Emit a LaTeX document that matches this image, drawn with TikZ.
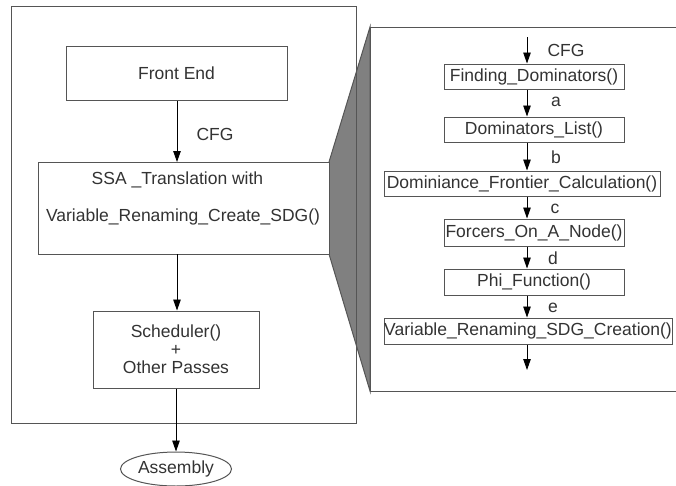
\documentclass[tikz,border=0pt]{standalone}
\usepackage{fontspec}
\setmainfont{Liberation Sans}
\usetikzlibrary{arrows.meta,shapes.geometric}
\definecolor{txt}{HTML}{333333}
\definecolor{frame}{HTML}{555555}
\definecolor{wedge}{HTML}{808080}
\begin{document}
\begin{tikzpicture}[x=1pt,y=-1pt,
  every node/.style={text=txt,font=\fontsize{17.5}{18}\selectfont},
  box/.style={draw=frame,line width=1pt,fill=white,inner sep=0pt,rectangle,align=center},
  flow/.style={draw=black,line width=0.9pt,-{Triangle[length=11pt,width=7.5pt]}},
  lbl/.style={inner sep=0pt}]
\useasboundingbox (0,0) rectangle (676,485);

% shaded wedge linking the SSA stage to its detail panel
\fill[wedge,draw=frame,line width=1pt] (329,162) -- (370,27) -- (370,391) -- (329,254) -- cycle;

% outer compiler frame
\draw[frame,line width=1pt] (11,6) rectangle (356,423);

% compiler stages
\node[box,minimum width=221pt,minimum height=54pt] (fe) at (176.5,73.5) {Front End};
\node[box,minimum width=291pt,minimum height=92pt] (ssa) at (183.5,208) {};
\node[lbl] at (177.5,180) {SSA \_Translation with};
\node[lbl] at (183,217) {Variable\_Renaming\_Create\_SDG()};
\node[box,minimum width=166pt,minimum height=77pt,
      font=\fontsize{17.5}{18}\selectfont] (sch) at (176,349.5) {Scheduler()\\+\\Other Passes};
\node[draw=frame,line width=1pt,ellipse,minimum width=111pt,minimum height=34pt,inner sep=0pt] (asm) at (176,469) {Assembly};

\draw[flow] (fe.south -| 177,0) -- (177,162) coordinate (ssatop);
\node[lbl] (cfg1) at (215,134.5) {CFG};
\draw[flow] (177,254) -- (sch.north -| 177,0);
\draw[flow] (sch.south) -- (asm.north);

% detail panel of the SSA translation
\draw[frame,line width=1pt,fill=white] (676,27) -- (370,27) -- (370,391) -- (676,391);
\coordinate (axis) at (527,0);
\coordinate (in) at (527,37);
\node[box,minimum width=180pt,minimum height=25pt] (fd) at (534,76.5) {Finding\_Dominators()};
\node[box,minimum width=180pt,minimum height=25pt] (dl) at (534,129.5) {Dominators\_List()};
\node[box,minimum width=276pt,minimum height=25pt] (df) at (522,183.5) {Dominiance\_Frontier\_Calculation()};
\node[box,minimum width=180pt,minimum height=27pt] (fn) at (534,232.5) {Forcers\_On\_A\_Node()};
\node[box,minimum width=180pt,minimum height=26pt] (ph) at (534,282) {Phi\_Function()};
\node[box,minimum width=288pt,minimum height=26pt] (vr) at (528,331) {Variable\_Renaming\_SDG\_Creation()};
\coordinate (out) at (527,370);

\draw[flow] (in) -- (fd.north -| axis);
\draw[flow] (fd.south -| axis) -- (dl.north -| axis);
\draw[flow] (dl.south -| axis) -- (df.north -| axis);
\draw[flow] (df.south -| axis) -- (fn.north -| axis);
\draw[flow] (fn.south -| axis) -- (ph.north -| axis);
\draw[flow] (ph.south -| axis) -- (vr.north -| axis);
\draw[flow] (vr.south -| axis) -- (out);

\node[lbl] (cfg2) at (566,50) {CFG};
\node[lbl] (la) at (556,102) {a};
\node[lbl] (lb) at (556,157) {b};
\node[lbl] (lc) at (555,209) {c};
\node[lbl] (ld) at (553,258) {d};
\node[lbl] (le) at (553,308) {e};
\end{tikzpicture}
\end{document}
